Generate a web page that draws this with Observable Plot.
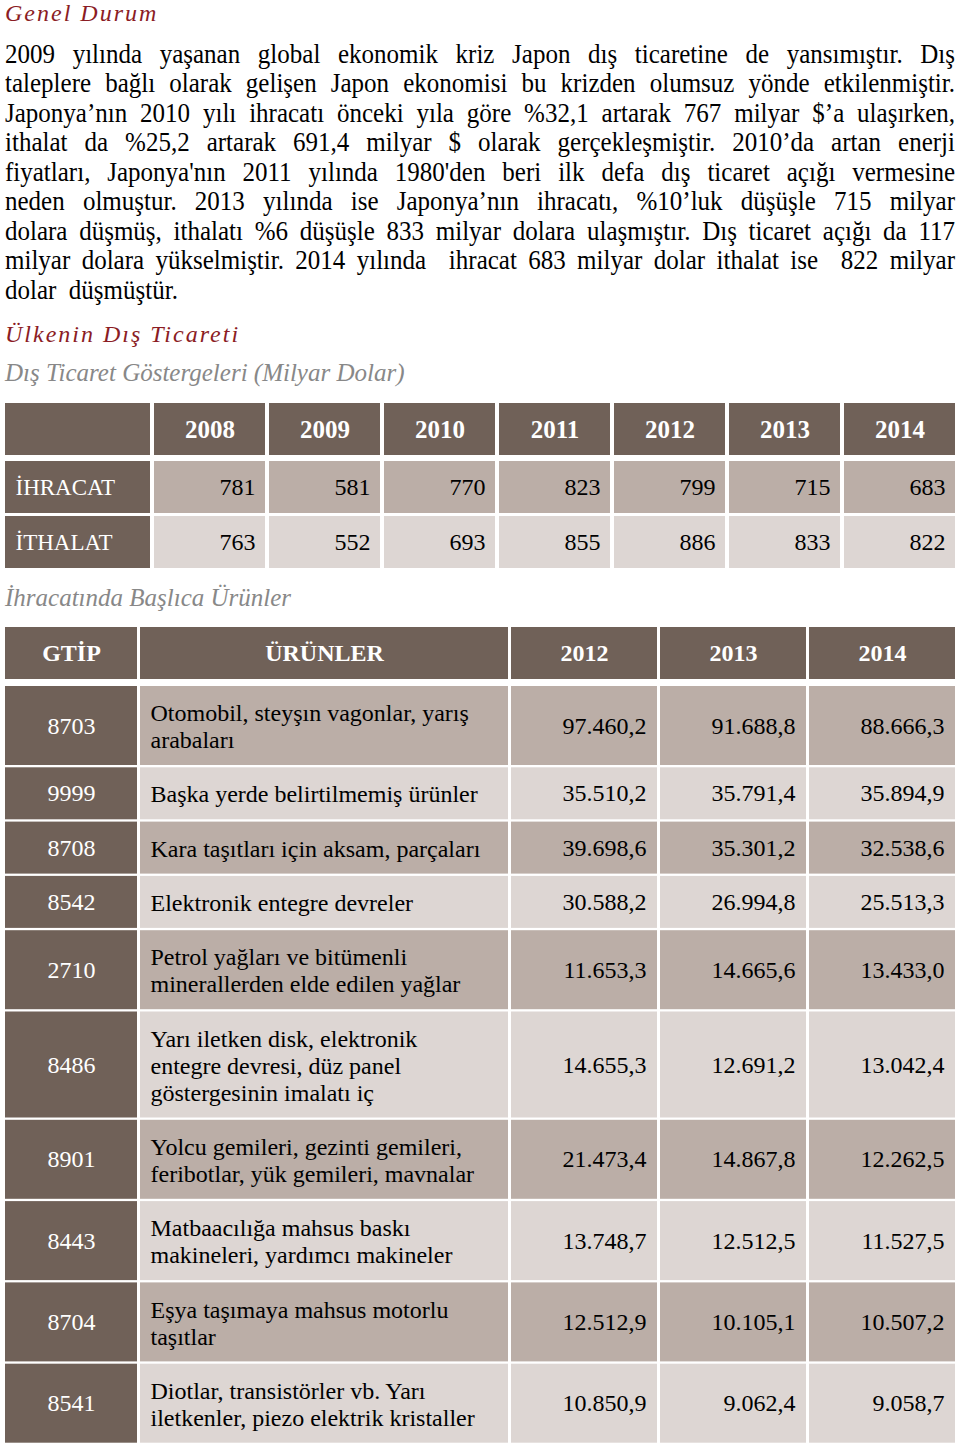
<!DOCTYPE html>
<html lang="tr">
<head>
<meta charset="utf-8">
<script src="https://cdn.jsdelivr.net/npm/d3@7"></script>
<script src="https://cdn.jsdelivr.net/npm/@observablehq/plot@0.6"></script>
<style>
html,body{margin:0;padding:0;background:#fff}
body{width:960px;height:1452px;position:relative;overflow:hidden;font-family:"Liberation Serif",serif;color:#000}
.abs{position:absolute;left:5px;white-space:pre;margin:0}
.heading{font-style:italic;color:#8b1c24;font-size:24px;line-height:30px;letter-spacing:2px}
.sub{font-style:italic;color:#888;font-size:25px;line-height:30px}
.pline{position:absolute;left:5px;width:950px;white-space:pre;font-size:25px;line-height:29.5px;height:29.5px}
.pline span{display:inline-block;transform:scaleY(1.1);transform-origin:0 23.2px}
#t1{position:absolute;left:0;top:400px}
#t2{position:absolute;left:0;top:622px}
</style>
</head>
<body>
<div class="abs heading" style="top:-2px">Genel Durum</div>
<div id="para"></div>
<div class="abs heading" style="top:318.6px">Ülkenin Dış Ticareti</div>
<div class="abs sub" style="top:358.3px">Dış Ticaret Göstergeleri (Milyar Dolar)</div>
<div id="t1"></div>
<div class="abs sub" style="top:583.3px">İhracatında Başlıca Ürünler</div>
<div id="t2"></div>
<script>
// ---------- text ----------
const paragraphLines = [
  "2009 yılında yaşanan global ekonomik kriz Japon dış ticaretine de yansımıştır. Dış",
  "taleplere bağlı olarak gelişen Japon ekonomisi bu krizden olumsuz yönde etkilenmiştir.",
  "Japonya’nın 2010 yılı ihracatı önceki yıla göre %32,1 artarak 767 milyar $’a ulaşırken,",
  "ithalat da %25,2 artarak 691,4 milyar $ olarak gerçekleşmiştir. 2010’da artan enerji",
  "fiyatları, Japonya'nın 2011 yılında 1980'den beri ilk defa dış ticaret açığı vermesine",
  "neden olmuştur. 2013 yılında ise Japonya’nın ihracatı, %10’luk düşüşle 715 milyar",
  "dolara düşmüş, ithalatı %6 düşüşle 833 milyar dolara ulaşmıştır. Dış ticaret açığı da 117",
  "milyar dolara yükselmiştir. 2014 yılında  ihracat 683 milyar dolar ithalat ise  822 milyar",
  "dolar  düşmüştür."
];

// ---------- table 1 data ----------
const years1 = ["2008", "2009", "2010", "2011", "2012", "2013", "2014"];
const rowLabels1 = ["İHRACAT", "İTHALAT"];
const exports1 = [781, 581, 770, 823, 799, 715, 683];
const imports1 = [763, 552, 693, 855, 886, 833, 822];

// ---------- table 2 data ----------
const headers2 = ["GTİP", "ÜRÜNLER", "2012", "2013", "2014"];
const gtipCodes = ["8703", "9999", "8708", "8542", "2710", "8486", "8901", "8443", "8704", "8541"];
const productNames = [
  "Otomobil, steyşın vagonlar, yarış\narabaları",
  "Başka yerde belirtilmemiş ürünler",
  "Kara taşıtları için aksam, parçaları",
  "Elektronik entegre devreler",
  "Petrol yağları ve bitümenli\nminerallerden elde edilen yağlar",
  "Yarı iletken disk, elektronik\nentegre devresi, düz panel\ngöstergesinin imalatı iç",
  "Yolcu gemileri, gezinti gemileri,\nferibotlar, yük gemileri, mavnalar",
  "Matbaacılığa mahsus baskı\nmakineleri, yardımcı makineler",
  "Eşya taşımaya mahsus motorlu\ntaşıtlar",
  "Diotlar, transistörler vb. Yarı\niletkenler, piezo elektrik kristaller"
];
const values2012 = [97460.2, 35510.2, 39698.6, 30588.2, 11653.3, 14655.3, 21473.4, 13748.7, 12512.9, 10850.9];
const values2013 = [91688.8, 35791.4, 35301.2, 26994.8, 14665.6, 12691.2, 14867.8, 12512.5, 10105.1, 9062.4];
const values2014 = [88666.3, 35894.9, 32538.6, 25513.3, 13433.0, 13042.4, 12262.5, 11527.5, 10507.2, 9058.7];

// ---------- paragraph layout ----------
const para = document.getElementById("para");
paragraphLines.forEach((line, i) => {
  const div = document.createElement("div");
  div.className = "pline";
  div.style.top = (39.8 + i * 29.5) + "px";
  const span = document.createElement("span");
  span.textContent = line;
  div.appendChild(span);
  para.appendChild(div);
  if (i < paragraphLines.length - 1) {
    const w = span.getBoundingClientRect().width;
    const n = (line.match(/ /g) || []).length;
    span.style.wordSpacing = ((950 - w) / n) + "px";
  }
});

// ---------- shared ----------
const W = 960;
const colors = {dark: "#706158", mid: "#bbaea7", light: "#ddd6d3"};
const font = '"Liberation Serif", serif';
const trFmt = d3.formatLocale({decimal: ",", thousands: ".", grouping: [3], currency: ["", ""]}).format(",.1f");
const mid = (a, b) => (a + b) / 2;
function rects(cells) {
  return Object.keys(colors).map(k =>
    Plot.rect(cells.filter(d => d.kind === k), {x1: "x1", x2: "x2", y1: "y1", y2: "y2", fill: colors[k]}));
}
function frame(H) {
  return {
    width: W, height: H, margin: 0,
    x: {domain: [0, W], range: [0, W], axis: null},
    y: {domain: [0, H], range: [0, H], axis: null},
    style: {fontFamily: font, background: "transparent", overflow: "visible"}
  };
}

// ---------- table 1 ----------
const L1 = {left: 5, firstW: 145, colW: 111, gap: 4, headTop: 3, headH: 52, headGap: 6, rowH: 52, rowGap: 3, pad: 10};
const H1 = 172;
const t1Cols = [{x1: L1.left, x2: L1.left + L1.firstW}];
years1.forEach((_, i) => {
  const x1 = L1.left + L1.firstW + L1.gap + i * (L1.colW + L1.gap);
  t1Cols.push({x1, x2: x1 + L1.colW});
});
const t1Rows = [{y1: L1.headTop, y2: L1.headTop + L1.headH}];
{
  let y = L1.headTop + L1.headH + L1.headGap;
  rowLabels1.forEach(() => { t1Rows.push({y1: y, y2: y + L1.rowH}); y += L1.rowH + L1.rowGap; });
}
const series1 = [exports1, imports1];
const cells1 = [];
t1Rows.forEach((r, ri) => t1Cols.forEach((c, ci) => {
  const kind = (ri === 0 || ci === 0) ? "dark" : (ri % 2 === 1 ? "mid" : "light");
  cells1.push({x1: c.x1, x2: c.x2, y1: r.y1, y2: r.y2, kind});
}));
const head1 = years1.map((t, i) => ({text: t, x: mid(t1Cols[i + 1].x1, t1Cols[i + 1].x2), y: mid(t1Rows[0].y1, t1Rows[0].y2)}));
const labels1 = rowLabels1.map((t, i) => ({text: t, x: t1Cols[0].x1 + L1.pad, y: mid(t1Rows[i + 1].y1, t1Rows[i + 1].y2)}));
const vals1 = [];
series1.forEach((s, ri) => s.forEach((v, ci) => vals1.push({
  text: String(v), x: t1Cols[ci + 1].x2 - L1.pad, y: mid(t1Rows[ri + 1].y1, t1Rows[ri + 1].y2)
})));

const plot1 = Plot.plot({
  ...frame(H1),
  marks: [
    ...rects(cells1),
    Plot.text(head1, {x: "x", y: "y", text: "text", fill: "#fff", fontSize: 25, fontWeight: "bold"}),
    Plot.text(labels1, {x: "x", y: "y", text: "text", fill: "#fff", fontSize: 23, textAnchor: "start"}),
    Plot.text(vals1, {x: "x", y: "y", text: "text", fill: "#000", fontSize: 24, textAnchor: "end"})
  ]
});
document.getElementById("t1").appendChild(plot1);

// ---------- table 2 ----------
const L2 = {left: 5, widths: [132, 368, 146, 146, 146], gap: 3, headTop: 5, headH: 52, headGap: 7,
            rowPad: 25, lineH: 27, rowGap: 2.3, padL: 10, padR: 11};
const H2 = 830;
const t2Cols = [];
{
  let x = L2.left;
  L2.widths.forEach(w => { t2Cols.push({x1: x, x2: x + w}); x += w + L2.gap; });
}
const t2Rows = [{y1: L2.headTop, y2: L2.headTop + L2.headH}];
{
  let y = L2.headTop + L2.headH + L2.headGap;
  productNames.forEach(p => {
    const h = L2.rowPad + L2.lineH * p.split("\n").length;
    t2Rows.push({y1: y, y2: y + h});
    y += h + L2.rowGap;
  });
}
const cells2 = [];
t2Rows.forEach((r, ri) => t2Cols.forEach((c, ci) => {
  const kind = (ri === 0 || ci === 0) ? "dark" : (ri % 2 === 1 ? "mid" : "light");
  cells2.push({x1: c.x1, x2: c.x2, y1: r.y1, y2: r.y2, kind});
}));
const head2 = headers2.map((t, i) => ({text: t, x: mid(t2Cols[i].x1, t2Cols[i].x2), y: mid(t2Rows[0].y1, t2Rows[0].y2)}));
const codes2 = gtipCodes.map((t, i) => ({text: t, x: mid(t2Cols[0].x1, t2Cols[0].x2), y: mid(t2Rows[i + 1].y1, t2Rows[i + 1].y2)}));
const names2 = productNames.map((t, i) => ({text: t, x: t2Cols[1].x1 + L2.padL, y: mid(t2Rows[i + 1].y1, t2Rows[i + 1].y2)}));
const vals2 = [];
[values2012, values2013, values2014].forEach((s, si) => s.forEach((v, ri) => vals2.push({
  text: trFmt(v), x: t2Cols[si + 2].x2 - L2.padR, y: mid(t2Rows[ri + 1].y1, t2Rows[ri + 1].y2)
})));

const plot2 = Plot.plot({
  ...frame(H2),
  marks: [
    ...rects(cells2),
    Plot.text(head2, {x: "x", y: "y", text: "text", fill: "#fff", fontSize: 24, fontWeight: "bold"}),
    Plot.text(codes2, {x: "x", y: "y", text: "text", fill: "#fff", fontSize: 24}),
    Plot.text(names2, {x: "x", y: "y", text: "text", fill: "#000", fontSize: 24, textAnchor: "start", lineHeight: 27 / 24}),
    Plot.text(vals2, {x: "x", y: "y", text: "text", fill: "#000", fontSize: 24, textAnchor: "end"})
  ]
});
document.getElementById("t2").appendChild(plot2);
</script>
</body>
</html>
